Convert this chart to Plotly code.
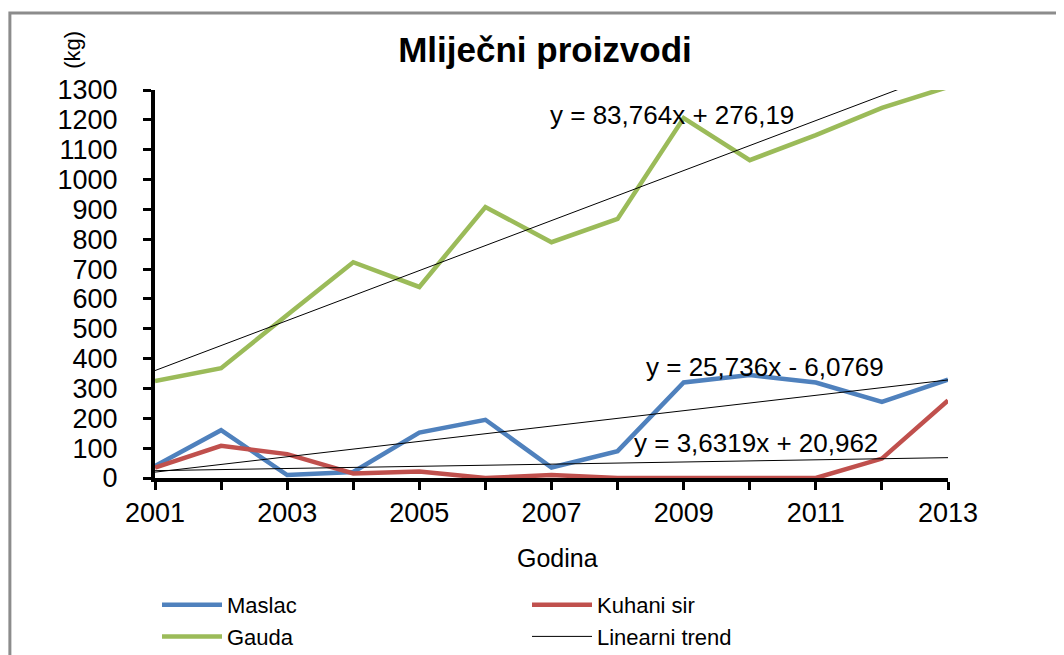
import plotly.graph_objects as go

godine = list(range(2001, 2014))
maslac = [40, 160, 10, 20, 152, 195, 35, 90, 320, 345, 320, 255, 330]
kuhani_sir = [35, 108, 80, 15, 22, 0, 10, 0, 0, 0, 0, 65, 260]
gauda = [325, 368, 546, 723, 640, 908, 790, 868, 1206, 1065, 1149, 1240, 1310]

# trend coefficients as printed on the chart (y = a*x + b, x = 1..13)
trend_maslac = (25.736, -6.0769)
trend_kuhani = (3.6319, 20.962)
trend_gauda = (83.764, 276.19)

FONT = "Liberation Sans, Arial, sans-serif"
W, H = 1056, 647  # page body has an 8px margin
fig = go.Figure()

fig.add_trace(go.Scatter(x=godine, y=maslac, mode="lines", name="Maslac",
                         line=dict(color="#4F81BD", width=4.5)))
fig.add_trace(go.Scatter(x=godine, y=kuhani_sir, mode="lines", name="Kuhani sir",
                         line=dict(color="#C0504D", width=4.5)))
fig.add_trace(go.Scatter(x=godine, y=gauda, mode="lines", name="Gauda",
                         line=dict(color="#9BBB59", width=4.5)))

for i, (a, b) in enumerate([trend_maslac, trend_kuhani, trend_gauda]):
    ty = [a * (k + 1) + b for k in range(len(godine))]
    fig.add_trace(go.Scatter(x=godine, y=ty, mode="lines", name="Linearni trend",
                             line=dict(color="black", width=1),
                             showlegend=(i == 1), legendrank=1000))

fig.update_layout(
    width=W, height=H,
    margin=dict(l=147, r=116, t=82, b=177, autoexpand=False),
    paper_bgcolor="white", plot_bgcolor="white",
    font=dict(family=FONT, color="black"),
    title=dict(text="<b>Mliječni proizvodi</b>", x=537 / W, y=1 - 42 / H,
               xanchor="center", yanchor="middle", font=dict(size=35)),
    showlegend=True,
    legend=dict(orientation="h", xref="container", yref="container",
                x=149 / W, y=1 - 576 / H, xanchor="left", yanchor="top",
                entrywidth=295, entrywidthmode="pixels", font=dict(size=22),
                tracegroupgap=0, itemwidth=60),
)

fig.update_xaxes(range=[2001, 2013], tickvals=godine, automargin=False,
                 ticktext=[str(g) if g % 2 == 1 else "" for g in godine],
                 showgrid=False, zeroline=False, showline=True, linecolor="black",
                 linewidth=4, ticks="outside", ticklen=8, tickwidth=3, tickcolor="black",
                 tickfont=dict(size=27), ticklabelstandoff=0)
fig.update_yaxes(range=[0, 1300], dtick=100, showgrid=False, zeroline=False,
                 automargin=False,
                 showline=True, linecolor="black", linewidth=4, ticks="outside",
                 ticklen=8, tickwidth=3, tickcolor="black",
                 tickfont=dict(size=27), ticklabelstandoff=20)

fig.add_annotation(text="y = 83,764x + 276,19", x=2008.82, y=1216, xref="x", yref="y",
                   showarrow=False, font=dict(size=26))
fig.add_annotation(text="y = 25,736x - 6,0769", x=2010.23, y=372, xref="x", yref="y",
                   showarrow=False, font=dict(size=26))
fig.add_annotation(text="y = 3,6319x + 20,962", x=2010.1, y=117, xref="x", yref="y",
                   showarrow=False, font=dict(size=26))
fig.add_annotation(text="Godina", x=0.507, y=-0.206, xref="paper", yref="paper",
                   xanchor="center", yanchor="middle",
                   showarrow=False, font=dict(size=25))
fig.add_annotation(text="(kg)", x=-0.105, y=1.103, xref="paper", yref="paper",
                   xanchor="center", yanchor="middle",
                   showarrow=False, textangle=-90, font=dict(size=22))

# outer chart frame
fig.add_shape(type="rect", xref="paper", yref="paper", x0=-0.183, x1=1.3,
              y0=-0.6, y1=1.1985, line=dict(color="#8C8C8C", width=3), layer="below")

fig.write_html("out.html")
